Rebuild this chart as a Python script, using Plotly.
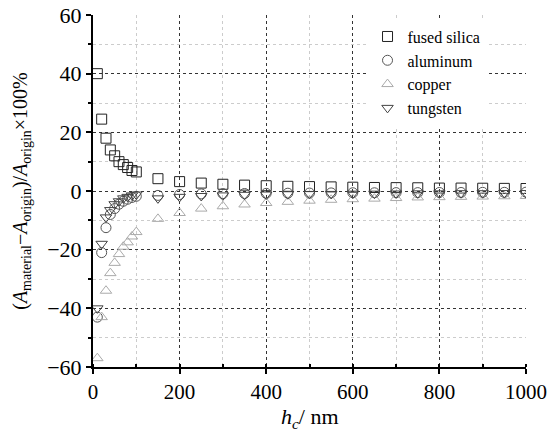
import plotly.graph_objects as go

hc = [10, 20, 30, 40, 50, 60, 70, 80, 90, 100,
      150, 200, 250, 300, 350, 400, 450, 500, 550, 600,
      650, 700, 750, 800, 850, 900, 950, 1000]

fused_silica = [40, 24.5, 18, 14, 12, 10, 9, 8, 7, 6.5,
                4.2, 3.2, 2.7, 2.3, 2.0, 1.8, 1.6, 1.5, 1.4, 1.3,
                1.2, 1.15, 1.1, 1.0, 1.0, 0.95, 0.9, 0.85]
aluminum = [-43, -21, -12.5, -8, -6, -4.5, -3.5, -2.8, -2.2, -1.8,
            -1.5, -1.2, -1.0, -0.9, -0.85, -0.8, -0.75, -0.7, -0.65, -0.6,
            -0.6, -0.55, -0.55, -0.5, -0.5, -0.45, -0.45, -0.4]
copper = [-57, -43, -34, -28, -24.5, -21.5, -19, -17.5, -15.5, -14,
          -9.5, -7.5, -6, -5.2, -4.6, -4.1, -3.7, -3.3, -3.0, -2.8,
          -2.6, -2.4, -2.2, -2.1, -2.0, -1.9, -1.8, -1.7]
tungsten = [-40, -18, -9, -6.5, -4.5, -3.5, -2.5, -2.0, -1.5, -1.2,
            -2.5, -2.0, -1.7, -1.5, -1.3, -1.2, -1.1, -1.0, -1.0, -0.9,
            -0.9, -0.85, -0.8, -0.8, -0.75, -0.75, -0.7, -0.7]

x_ticks = [0, 200, 400, 600, 800, 1000]
y_ticks = [-60, -40, -20, 0, 20, 40, 60]

series = [
    ("fused silica", fused_silica, "square-open", "#222222", 10),
    ("aluminum", aluminum, "circle-open", "#555555", 10),
    ("copper", copper, "triangle-up-open", "#aaaaaa", 10),
    ("tungsten", tungsten, "triangle-down-open", "#444444", 10),
]

fig = go.Figure()
for name, vals, sym, col, sz in series:
    fig.add_trace(go.Scatter(
        x=hc, y=vals, name=name, mode="markers",
        marker=dict(symbol=sym, size=sz, color=col, line=dict(width=1, color=col)),
    ))

serif = "Liberation Serif"

fig.update_layout(
    width=547, height=435,
    margin=dict(l=93, r=21, t=15, b=68, autoexpand=False),
    paper_bgcolor="white", plot_bgcolor="white",
    font=dict(family=serif, size=18, color="black"),
    showlegend=True,
    legend=dict(
        x=0.634, y=0.955, xanchor="left", yanchor="top", yref="container",
        bgcolor="white", borderwidth=0,
        font=dict(family=serif, size=16, color="black"),
        itemsizing="trace", tracegroupgap=0,
    ),
    xaxis=dict(
        range=[0, 1000], tickvals=x_ticks, ticktext=[str(v) for v in x_ticks],
        showline=True, linecolor="black", linewidth=2,
        ticks="outside", ticklen=5, tickwidth=1.5, tickcolor="black",
        showgrid=True, gridcolor="#333333", griddash="dot", gridwidth=1,
        minor=dict(dtick=100, showgrid=True, gridcolor="#cccccc", griddash="dot",
                   ticks="inside", ticklen=3, tickcolor="black"),
        zeroline=False, mirror=False, ticklabeloverflow="allow",
        tickfont=dict(family=serif, size=21),
    ),
    yaxis=dict(
        range=[-60, 60], tickvals=y_ticks,
        ticktext=["\u221260", "\u221240", "\u221220", "0", "20", "40", "60"],
        showline=True, linecolor="black", linewidth=2,
        ticks="outside", ticklen=5, tickwidth=1.5, tickcolor="black",
        showgrid=True, gridcolor="#333333", griddash="dot", gridwidth=1,
        minor=dict(dtick=10, showgrid=True, gridcolor="#cccccc", griddash="dot",
                   ticks="outside", ticklen=3, tickcolor="black"),
        zeroline=False, mirror=False, ticklabeloverflow="allow",
        title=dict(text="(<i>A</i><sub>material</sub>\u2212<i>A</i><sub>origin</sub>)/<i>A</i><sub>origin</sub>\u00d7100%",
                   font=dict(family=serif, size=20), standoff=14),
        tickfont=dict(family=serif, size=22),
    ),
)

fig.add_annotation(
    text="<i>h<sub>c</sub></i>/ nm", xref="paper", yref="paper",
    x=0.5, y=-0.145, xanchor="center", yanchor="middle", showarrow=False,
    font=dict(family=serif, size=22, color="black"),
)

fig.write_html("out.html")
